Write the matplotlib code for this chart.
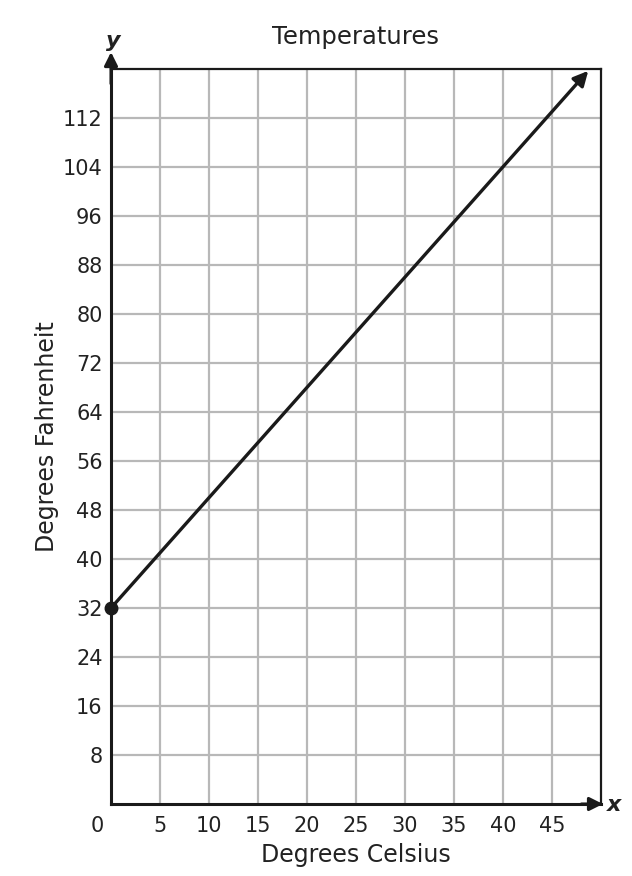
import matplotlib.pyplot as plt

# chart data
x_ticks = [5, 10, 15, 20, 25, 30, 35, 40, 45]
y_ticks = [8, 16, 24, 32, 40, 48, 56, 64, 72, 80, 88, 96, 104, 112]
x_line = [0, 48.7]
y_line = [32, 119.7]
start_point = (0, 32)

text_col = '#222222'
plt.rcParams['font.family'] = ['DejaVu Sans']

fig = plt.figure(figsize=(6.32, 8.76), dpi=100)
ax = fig.add_axes([111 / 632, 1 - 804 / 876, 490 / 632, 735 / 876])
ax.set_xlim(0, 50)
ax.set_ylim(0, 120)

# grid
ax.set_xticks(x_ticks)
ax.set_yticks(y_ticks)
ax.grid(True, color='#b8b8b8', linewidth=1.6)
ax.set_axisbelow(True)
ax.tick_params(length=0, labelsize=15, colors=text_col, pad=6)
ax.tick_params(axis='x', pad=9)
for s in ax.spines.values():
    s.set_color('#1a1a1a')
    s.set_linewidth(1.6)
ax.spines['left'].set_linewidth(2.2)
ax.spines['bottom'].set_linewidth(2.2)

# the "0" at the origin sits left of the axis
ax.annotate('0', xy=(0, 0), xytext=(-10, -9), textcoords='offset points',
            ha='center', va='top', fontsize=15, color=text_col,
            annotation_clip=False)

# axis arrows
ax.annotate('', xy=(0, 1.023), xytext=(0, 0.98), xycoords='axes fraction',
            arrowprops=dict(arrowstyle='-|>', color='#1a1a1a', lw=2.2,
                            mutation_scale=20, shrinkA=0, shrinkB=0),
            annotation_clip=False)
ax.annotate('', xy=(1.004, 0), xytext=(0.96, 0), xycoords='axes fraction',
            arrowprops=dict(arrowstyle='-|>', color='#1a1a1a', lw=2.2,
                            mutation_scale=20, shrinkA=0, shrinkB=0),
            annotation_clip=False)
ax.text(0.005, 1.024, 'y', transform=ax.transAxes, ha='center', va='bottom',
        fontsize=16, fontweight='bold', fontstyle='italic', color=text_col)
ax.text(1.027, -0.001, 'x', transform=ax.transAxes, ha='center', va='center',
        fontsize=16, fontweight='bold', fontstyle='italic', color=text_col)

# the conversion line
ax.annotate('', xy=(x_line[1], y_line[1]), xytext=(x_line[0], y_line[0]),
            arrowprops=dict(arrowstyle='-|>', color='#1a1a1a', lw=2.4,
                            mutation_scale=22, shrinkA=0, shrinkB=0),
            annotation_clip=False)
ax.plot(*start_point, 'o', color='#1a1a1a', markersize=9, clip_on=False, zorder=5)

ax.set_title('Temperatures', fontsize=17.5, color=text_col, pad=18)
ax.set_xlabel('Degrees Celsius', fontsize=17, color=text_col, labelpad=5)
ax.set_ylabel('Degrees Fahrenheit', fontsize=17, color=text_col, labelpad=3)

fig.savefig('out.png', dpi=100)
